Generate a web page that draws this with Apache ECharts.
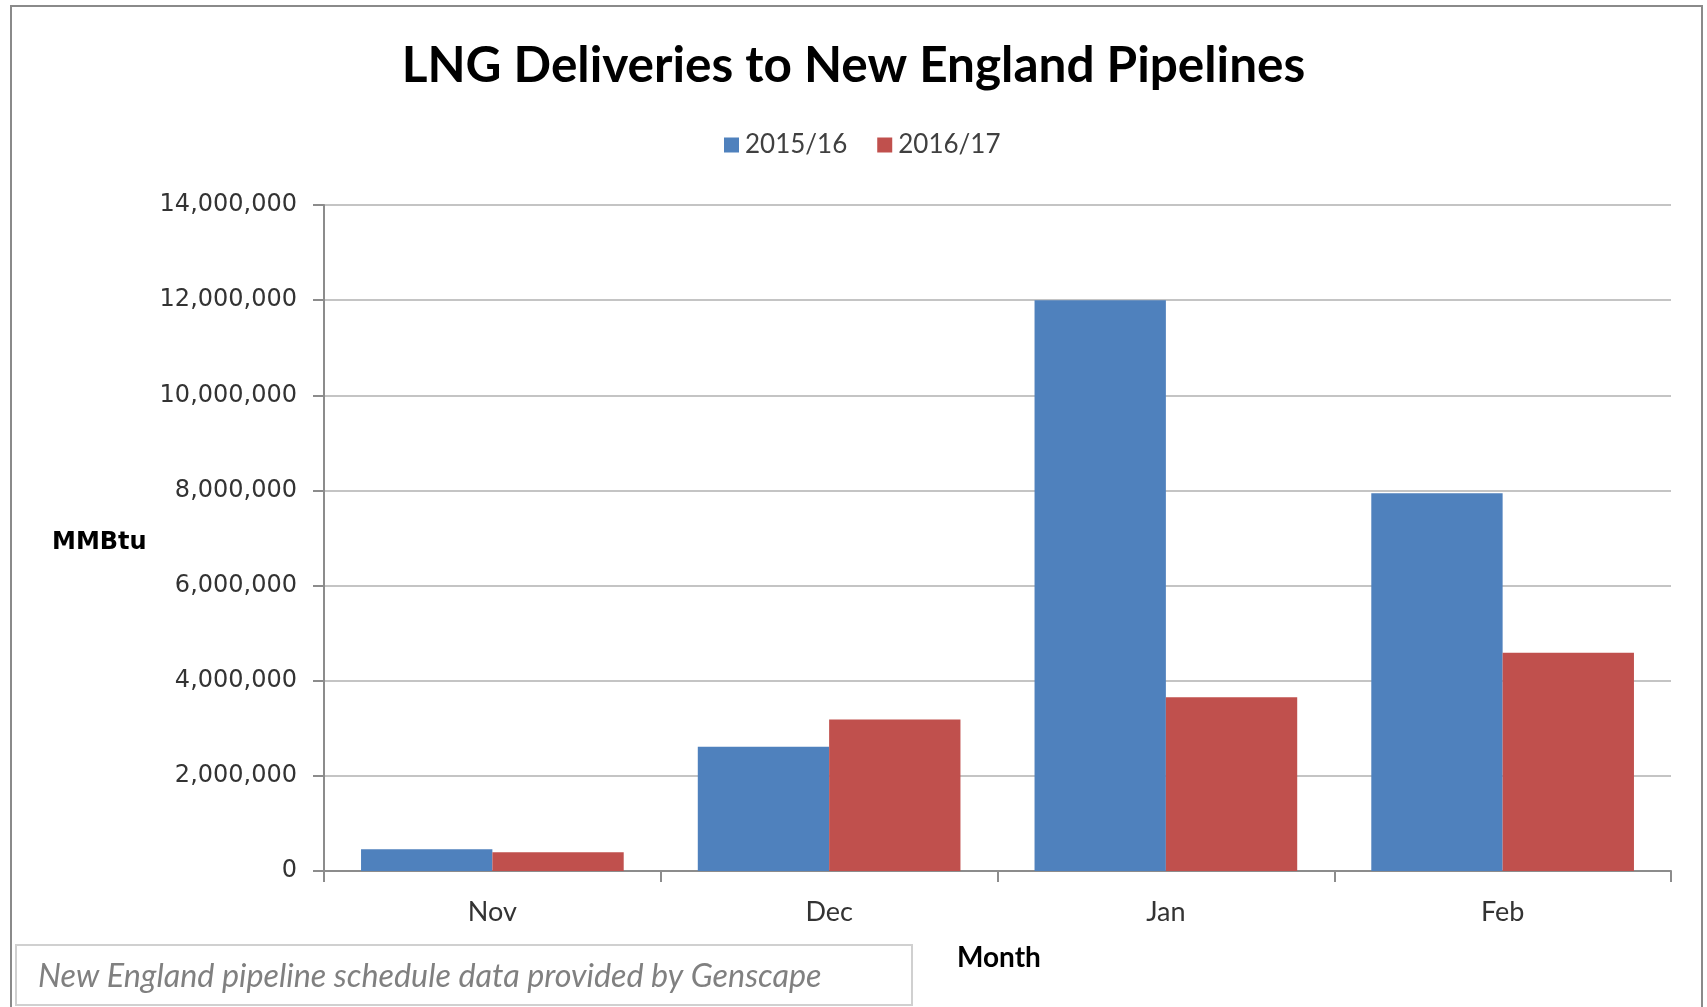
<!DOCTYPE html>
<html lang="en">
<head>
    <meta charset="UTF-8">
    <title>LNG Deliveries to New England Pipelines</title>
    <script src="https://cdn.jsdelivr.net/npm/echarts@6/dist/echarts.min.js"></script>
    <style>
        html, body { margin: 0; padding: 0; background: #fff; }
        #chart { width: 1707px; height: 1007px; }
    </style>
</head>
<body>
    <div id="chart"></div>
    <script>
        // chart data
        const months = ['Nov', 'Dec', 'Jan', 'Feb'];
        const season1516 = [457000, 2610000, 12000000, 7940000];
        const season1617 = [394000, 3185000, 3650000, 4590000];
        const seriesNames = ['2015/16', '2016/17'];

        const chart = echarts.init(document.getElementById('chart'));

        const option = {
            backgroundColor: '#fff',
            animation: false,
            title: {
                text: 'LNG Deliveries to New England Pipelines',
                left: 'center',
                top: 41,
                padding: 0,
                textStyle: {
                    fontFamily: 'Lato',
                    fontWeight: 'bold',
                    fontSize: 49.5,
                    color: '#000'
                }
            },
            legend: {
                data: seriesNames,
                top: 127,
                left: 719,
                itemWidth: 15,
                itemHeight: 15,
                itemGap: 30,
                icon: 'rect',
                textStyle: {
                    fontFamily: 'Lato',
                    fontSize: 26,
                    color: '#404040',
                    padding: [0, 0, 0, 1]
                }
            },
            grid: {
                left: 324,
                right: 36,
                top: 205,
                bottom: 136,
                containLabel: false
            },
            xAxis: {
                type: 'category',
                data: months,
                axisLine: { lineStyle: { color: '#8c8c8c', width: 2 } },
                axisTick: { show: true, length: 11, lineStyle: { color: '#8c8c8c', width: 2 } },
                axisLabel: {
                    margin: 28,
                    fontFamily: 'Lato',
                    fontSize: 27,
                    color: '#333'
                }
            },
            yAxis: {
                type: 'value',
                min: 0,
                max: 14000000,
                interval: 2000000,
                axisLine: { show: true, lineStyle: { color: '#8c8c8c', width: 2 } },
                axisTick: { show: true, length: 11, lineStyle: { color: '#8c8c8c', width: 2 } },
                splitLine: { lineStyle: { color: '#c4c4c4', width: 2 } },
                axisLabel: {
                    margin: 27,
                    fontFamily: 'DejaVu Sans',
                    fontSize: 24,
                    color: '#333',
                    formatter: function (v) {
                        return v.toLocaleString('en-US');
                    }
                }
            },
            series: [
                {
                    name: seriesNames[0],
                    type: 'bar',
                    data: season1516,
                    barGap: '0%',
                    barCategoryGap: '22%',
                    itemStyle: { color: '#4F81BD' }
                },
                {
                    name: seriesNames[1],
                    type: 'bar',
                    data: season1617,
                    barGap: '0%',
                    barCategoryGap: '22%',
                    itemStyle: { color: '#C0504D' }
                }
            ],
            graphic: [
                // outer frame
                {
                    type: 'rect',
                    shape: { x: 11, y: 6, width: 1691, height: 1010 },
                    style: { fill: 'none', stroke: '#8a8a8a', lineWidth: 2 },
                    silent: true
                },
                {
                    type: 'text',
                    left: 52,
                    top: 531,
                    style: {
                        text: 'MMBtu',
                        fontFamily: 'DejaVu Sans',
                        fontWeight: 'bold',
                        fontSize: 24,
                        fill: '#000'
                    }
                },
                {
                    type: 'text',
                    left: 957,
                    top: 944,
                    style: {
                        text: 'Month',
                        fontFamily: 'Lato',
                        fontWeight: 'bold',
                        fontSize: 28,
                        fill: '#000'
                    }
                },
                // source note box
                {
                    type: 'rect',
                    shape: { x: 16, y: 945, width: 896, height: 60 },
                    style: { fill: '#fff', stroke: '#d0d0d0', lineWidth: 2 },
                    silent: true
                },
                {
                    type: 'text',
                    left: 38,
                    top: 961,
                    style: {
                        text: 'New England pipeline schedule data provided by Genscape',
                        fontFamily: 'Lato',
                        fontStyle: 'italic',
                        fontSize: 32.3,
                        fill: '#808080'
                    }
                }
            ]
        };

        chart.setOption(option);
    </script>
</body>
</html>
